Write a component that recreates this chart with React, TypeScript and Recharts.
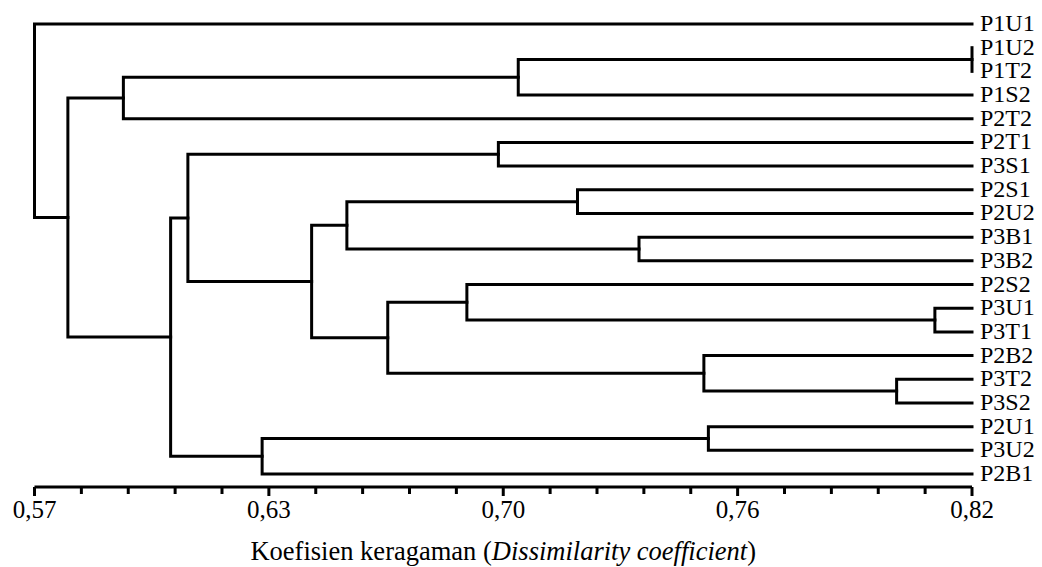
import { Label, Scatter, ScatterChart, XAxis, YAxis } from "recharts";

// leaves from top to bottom
const leafNames = [
  "P1U1", "P1U2", "P1T2", "P1S2", "P2T2", "P2T1", "P3S1", "P2S1", "P2U2", "P3B1",
  "P3B2", "P2S2", "P3U1", "P3T1", "P2B2", "P3T2", "P3S2", "P2U1", "P3U2", "P2B1",
];

// merge steps; "C<n>" is the cluster made by step n
const mergeLeft = [
  "P1U2", "C0", "C1", "P2T1", "P2S1", "P3B1", "C4", "P3U1", "P2S2", "P3T2",
  "P2B2", "C8", "C6", "C3", "P2U1", "C14", "C13", "C2", "P1U1",
];
const mergeRight = [
  "P1T2", "P1S2", "P2T2", "P3S1", "P2U2", "P3B2", "C5", "P3T1", "C7", "P3S2",
  "C9", "C10", "C11", "C12", "P3U2", "P2B1", "C15", "C16", "C17",
];
const mergeHeight = [
  0.82, 0.699, 0.5937, 0.6937, 0.7148, 0.7312, 0.6533, 0.8101, 0.6853, 0.7999,
  0.7485, 0.6642, 0.6439, 0.6109, 0.7497, 0.6307, 0.6063, 0.5789, 0.57,
];

const tickLabels = ["0,57", "0,63", "0,70", "0,76", "0,82"];
const X_MIN = 0.57;
const X_MAX = 0.82;
const xTicks = Array.from({ length: 21 }, (_, i) => X_MIN + (i * (X_MAX - X_MIN)) / 20);

type Pt = { x: number; y: number };

function buildLinks() {
  const pos: Record<string, Pt> = {};
  leafNames.forEach((n, i) => (pos[n] = { x: X_MAX, y: i }));
  return mergeHeight.map((h, i) => {
    const a = pos[mergeLeft[i]];
    const b = pos[mergeRight[i]];
    pos["C" + i] = { x: h, y: (a.y + b.y) / 2 };
    return [
      { x: a.x, y: a.y },
      { x: h, y: a.y },
      { x: h, y: b.y },
      { x: b.x, y: b.y },
    ];
  });
}

const links = buildLinks();
const font = "'Liberation Serif', 'Times New Roman', serif";

function XTick(props: any) {
  const { x, y, index } = props;
  const major = index % 5 === 0;
  return (
    <g>
      <line x1={x} x2={x} y1={y} y2={y + (major ? 9 : 7)} stroke="#000" strokeWidth={3} />
      {major && (
        <text x={x} y={y + 31} textAnchor="middle" fontSize={25} fontFamily={font} fill="#000">
          {tickLabels[index / 5]}
        </text>
      )}
    </g>
  );
}

function LeafTick(props: any) {
  const { x, y, payload } = props;
  return (
    <text x={x + 8} y={y + 7} textAnchor="start" fontSize={24} fontFamily={font} fill="#000">
      {leafNames[payload.value]}
    </text>
  );
}

function renderTitle(props: any) {
  const vb = props.viewBox;
  return (
    <text x={vb.x + vb.width / 2} y={vb.y + 73} textAnchor="middle" fontSize={26.5} fontFamily={font} fill="#000">
      Koefisien keragaman (<tspan fontStyle="italic">Dissimilarity coefficient</tspan>)
    </text>
  );
}

export default function App() {
  return (
    <div style={{ position: "absolute", left: 0, top: 0, background: "#fff" }}>
      <ScatterChart width={1042} height={567} margin={{ top: 24, right: 0, bottom: 0, left: 34.5 }}>
        <XAxis
          type="number"
          dataKey="x"
          domain={[X_MIN, X_MAX]}
          ticks={xTicks}
          interval={0}
          height={80}
          tickSize={0}
          tickMargin={0}
          tickLine={false}
          axisLine={{ stroke: "#000", strokeWidth: 3 }}
          tick={<XTick />}
        >
          <Label content={renderTitle} />
        </XAxis>
        <YAxis
          type="number"
          dataKey="y"
          orientation="right"
          reversed
          domain={[0, 19.549]}
          ticks={leafNames.map((_, i) => i)}
          interval={0}
          width={70}
          tickSize={0}
          tickMargin={0}
          tickLine={false}
          axisLine={false}
          tick={<LeafTick />}
        />
        {links.map((pts, i) => (
          <Scatter
            key={i}
            data={pts}
            isAnimationActive={false}
            line={{ stroke: "#000", strokeWidth: 3, strokeLinecap: "square", strokeLinejoin: "miter" }}
            shape={() => <g />}
          />
        ))}
      </ScatterChart>
    </div>
  );
}
